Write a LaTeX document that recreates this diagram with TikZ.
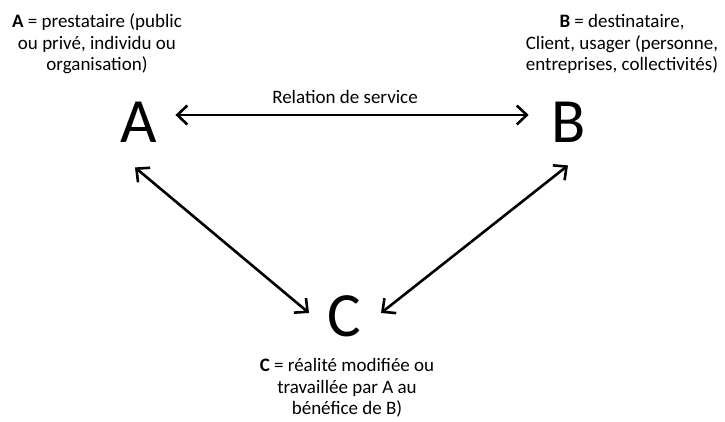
\documentclass[tikz,border=0pt]{standalone}
\usepackage{fontspec}
\setmainfont{Carlito}
\usetikzlibrary{arrows.meta}
\tikzset{
  letter/.style={inner sep=0pt, font=\fontsize{63}{63}\selectfont},
  legend/.style={align=center, inner sep=0pt, font=\fontsize{19}{21.5}\selectfont},
  dbl/.style={line width=2.6pt, {Straight Barb[length=10pt,width=19pt]}-{Straight Barb[length=10pt,width=19pt]}}
}
\begin{document}
\begin{tikzpicture}[x=1pt, y=-1pt]
            \useasboundingbox (0,0) rectangle (725,421);
            \node[letter] (A) at (139,122) {A};
            \node[letter] (B) at (569,122) {B};
            \node[letter] (C) at (344,316) {C};
            \node[legend] (la) at (97,44) {\textbf{A} = prestataire (public\\ou privé, individu ou\\organisation)};
            \node[legend] (lb) at (622,44) {\textbf{B} = destinataire,\\Client, usager (personne,\\entreprises, collectivités)};
            \node[legend] (lc) at (347,388) {\textbf{C} = réalité modifiée ou\\travaillée par A au\\bénéfice de B)};
            \node[legend] (rel) at (345,97) {Relation de service};
            \draw[dbl] ([shift={(18,-7)}]A.east) -- ([shift={(-23,-7)}]B.west);
            \draw[dbl] ([shift={(-4,25)}]A.south) -- ([shift={(-18,-3)}]C.west);
            \draw[dbl] ([shift={(-1,23)}]B.south) -- ([shift={(20,-3)}]C.east);
\end{tikzpicture}
\end{document}
